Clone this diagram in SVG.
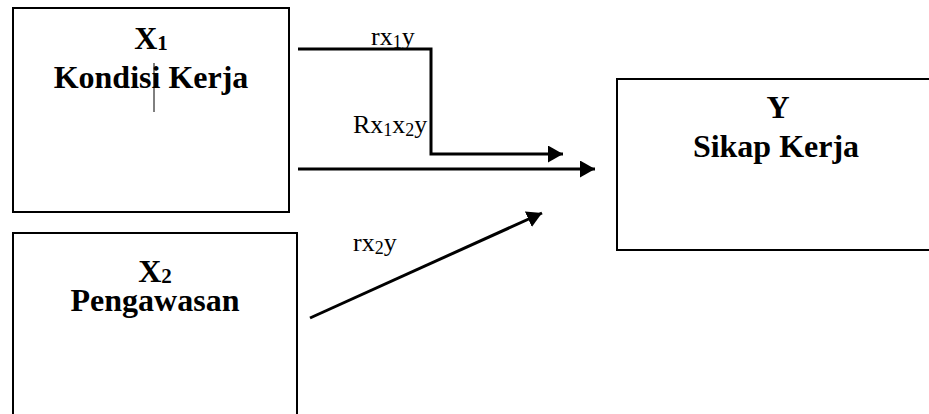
<svg xmlns="http://www.w3.org/2000/svg" width="929" height="414" viewBox="0 0 929 414">
<style>
.box{fill:#fff;stroke:#000;stroke-width:2}
.t{font-family:"Liberation Serif","Times New Roman",serif;font-weight:bold;font-size:32px;fill:#000;text-anchor:middle}
.lb{font-family:"Liberation Serif","Times New Roman",serif;font-size:26px;fill:#000}
.sub{font-size:18px}
.c{fill:none;stroke:#000;stroke-width:3}
</style>
<defs>
<marker id="ah" markerUnits="userSpaceOnUse" markerWidth="16" markerHeight="18" refX="15" refY="8.5" orient="auto">
<path d="M0,0 L15,8.5 L0,17 Z" fill="#000"/>
</marker>
</defs>
<rect width="929" height="414" fill="#fff"/>
<g id="node-x1">
<rect class="box" x="13" y="8" width="276" height="204"/>
<text class="t" x="151" y="49">X<tspan font-size="21" dy="1">1</tspan></text>
<text class="t" x="151" y="88">Kondisi Kerja</text>
<line x1="154" y1="63" x2="154" y2="112" stroke="#000" stroke-width="1"/>
</g>
<g id="node-x2">
<rect class="box" x="13" y="233" width="284" height="190"/>
<text class="t" x="155" y="282">X<tspan font-size="21" dy="1">2</tspan></text>
<text class="t" x="155" y="311">Pengawasan</text>
</g>
<g id="node-y">
<rect class="box" x="617" y="79" width="320" height="171"/>
<text class="t" x="778" y="118">Y</text>
<text class="t" x="776" y="157">Sikap Kerja</text>
</g>
<g id="connectors">
<path class="c" d="M298,49 H431 V154 H563" marker-end="url(#ah)"/>
<path class="c" d="M298,169 H595" marker-end="url(#ah)"/>
<path class="c" d="M310,318 L542,213" marker-end="url(#ah)"/>
<text class="lb" x="371" y="45">rx<tspan class="sub" dy="3">1</tspan><tspan dy="-3">y</tspan></text>
<text class="lb" x="353" y="133">Rx<tspan class="sub" dy="3">1</tspan><tspan dy="-3">x</tspan><tspan class="sub" dy="3">2</tspan><tspan dy="-3">y</tspan></text>
<text class="lb" x="353" y="251">rx<tspan class="sub" dy="3">2</tspan><tspan dy="-3">y</tspan></text>
</g>
</svg>
